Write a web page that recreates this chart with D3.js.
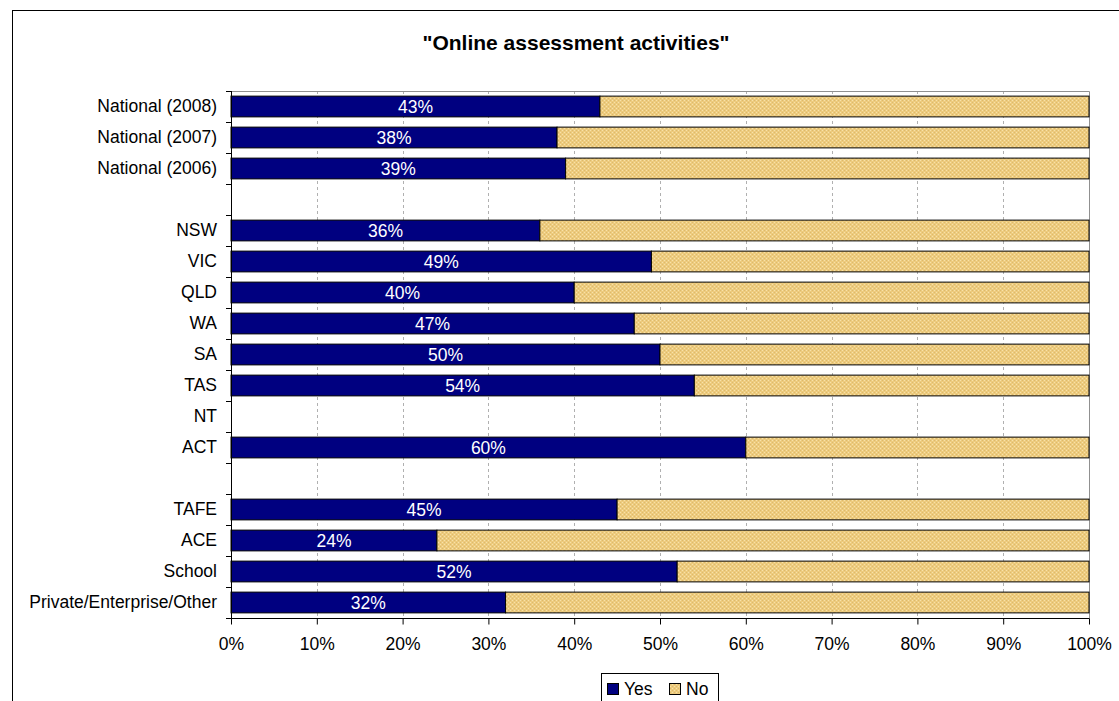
<!DOCTYPE html>
<html>
<head>
<meta charset="utf-8">
<script src="https://cdn.jsdelivr.net/npm/d3@7"></script>
<style>
  html, body { margin: 0; padding: 0; background: #fff; }
  svg { display: block; }
  text { font-family: "Liberation Sans", Arial, sans-serif; }
</style>
</head>
<body>
<svg id="chart" width="1119" height="701"></svg>
<script>
// ---- data ----
const categories = [
  "National (2008)", "National (2007)", "National (2006)", "",
  "NSW", "VIC", "QLD", "WA", "SA", "TAS", "NT", "ACT", "",
  "TAFE", "ACE", "School", "Private/Enterprise/Other"
];
const yesValues = [43, 38, 39, null, 36, 49, 40, 47, 50, 54, null, 60, null, 45, 24, 52, 32];
const noValues  = [57, 62, 61, null, 64, 51, 60, 53, 50, 46, null, 40, null, 55, 76, 48, 68];
const xTicks = [0, 10, 20, 30, 40, 50, 60, 70, 80, 90, 100];
const seriesNames = ["Yes", "No"];
const titleText = "\"Online assessment activities\"";

// ---- layout ----
const svg = d3.select("#chart");
const plot = { left: 231, right: 1089, top: 91, bottom: 618 };
const YES_COLOR = "#000080";
const FS = 17.5;

// pattern for "No"
const defs = svg.append("defs");
const pat = defs.append("pattern").attr("id", "noPat")
  .attr("patternUnits", "userSpaceOnUse").attr("width", 4).attr("height", 4);
pat.append("rect").attr("width", 4).attr("height", 4).attr("fill", "#EDCB7E");
pat.append("rect").attr("x", 0).attr("y", 0).attr("width", 1).attr("height", 1).attr("fill", "#F7E2AA");
pat.append("rect").attr("x", 2).attr("y", 2).attr("width", 1).attr("height", 1).attr("fill", "#F7E2AA");
pat.append("rect").attr("x", 2).attr("y", 0).attr("width", 1).attr("height", 1).attr("fill", "#DDBA6C");
pat.append("rect").attr("x", 0).attr("y", 2).attr("width", 1).attr("height", 1).attr("fill", "#DDBA6C");

// outer frame (extends beyond the viewport on right/bottom)
svg.append("rect").attr("x", 12.5).attr("y", 10.5).attr("width", 1200).attr("height", 800)
  .attr("fill", "none").attr("stroke", "#000").attr("stroke-width", 1);

// title
svg.append("text").attr("x", 576).attr("y", 50).attr("text-anchor", "middle")
  .attr("font-size", 21).attr("font-weight", "bold").attr("fill", "#000").text(titleText);

const rows = categories.map((c, i) => ({ key: i, label: c, yes: yesValues[i], no: noValues[i] }));

const x = d3.scaleLinear().domain([0, 100]).range([plot.left, plot.right]);
const y = d3.scaleBand().domain(rows.map(r => r.key))
  .range([plot.top, plot.bottom]).paddingInner(0.33).paddingOuter(0.165);

// grid lines
svg.append("g").selectAll("line").data(xTicks.filter(t => t > 0 && t < 100)).join("line")
  .attr("x1", d => Math.round(x(d)) + 0.5).attr("x2", d => Math.round(x(d)) + 0.5)
  .attr("y1", plot.top).attr("y2", plot.bottom)
  .attr("stroke", "#b0b0b0").attr("stroke-dasharray", "3,3");

// plot border (top/right gray)
svg.append("path")
  .attr("d", `M${plot.left},${plot.top + 0.5}H${plot.right + 0.5}V${plot.bottom}`)
  .attr("fill", "none").attr("stroke", "#909090");

// bars
const barG = svg.append("g");
const data = rows.filter(r => r.yes != null);
barG.selectAll("rect.yes").data(data).join("rect").attr("class", "yes")
  .attr("x", x(0)).attr("y", d => y(d.key))
  .attr("width", d => x(d.yes) - x(0)).attr("height", y.bandwidth())
  .attr("fill", YES_COLOR).attr("stroke", "#000").attr("stroke-width", 1);
barG.selectAll("rect.no").data(data).join("rect").attr("class", "no")
  .attr("x", d => x(d.yes)).attr("y", d => y(d.key))
  .attr("width", d => x(d.yes + d.no) - x(d.yes)).attr("height", y.bandwidth())
  .attr("fill", "url(#noPat)").attr("stroke", "#000").attr("stroke-width", 1);

// value labels
barG.selectAll("text.lbl").data(data).join("text").attr("class", "lbl")
  .attr("x", d => (x(0) + x(d.yes)) / 2).attr("y", d => y(d.key) + y.bandwidth() / 2)
  .attr("dy", "0.36em").attr("text-anchor", "middle").attr("font-size", FS)
  .attr("fill", "#fff").text(d => d.yes + "%");

// y axis (labels)
const yAxis = d3.axisLeft(y).tickSize(0).tickPadding(14).tickFormat(k => categories[k]);
const yg = svg.append("g").attr("transform", `translate(${plot.left},0)`).call(yAxis);
yg.select(".domain").remove();
yg.selectAll("text").attr("font-size", FS).attr("fill", "#000")
  .attr("font-family", "'Liberation Sans', Arial, sans-serif");

// y axis line + boundary ticks
const bounds = d3.range(categories.length + 1).map(i => plot.top + i * y.step());
svg.append("line").attr("x1", plot.left + 0.5).attr("x2", plot.left + 0.5)
  .attr("y1", plot.top).attr("y2", plot.bottom + 6).attr("stroke", "#000");
svg.append("g").selectAll("line").data(bounds).join("line")
  .attr("x1", plot.left - 5).attr("x2", plot.left)
  .attr("y1", d => Math.round(d) + 0.5).attr("y2", d => Math.round(d) + 0.5)
  .attr("stroke", "#000");

// x axis
const xAxis = d3.axisBottom(x).tickValues(xTicks).tickSize(6).tickPadding(13)
  .tickFormat(d => d + "%");
const xg = svg.append("g").attr("transform", `translate(0,${plot.bottom + 0.5})`).call(xAxis);
xg.select(".domain").attr("stroke", "#000").attr("d", `M${plot.left},0H${plot.right + 0.5}`);
xg.selectAll(".tick line").attr("stroke", "#000");
xg.selectAll("text").attr("font-size", FS).attr("fill", "#000")
  .attr("font-family", "'Liberation Sans', Arial, sans-serif");

// legend
const lg = svg.append("g");
lg.append("rect").attr("x", 601.5).attr("y", 673.5).attr("width", 117).attr("height", 30)
  .attr("fill", "#fff").attr("stroke", "#000");
const legendItems = [
  { name: seriesNames[0], fill: YES_COLOR, x: 607 },
  { name: seriesNames[1], fill: "url(#noPat)", x: 669 }
];
legendItems.forEach(it => {
  lg.append("rect").attr("x", it.x + 0.5).attr("y", 683.5).attr("width", 11).attr("height", 11)
    .attr("fill", it.fill).attr("stroke", "#000");
  lg.append("text").attr("x", it.x + 17).attr("y", 689).attr("dy", "0.36em")
    .attr("font-size", FS).attr("fill", "#000").text(it.name);
});
</script>
</body>
</html>
